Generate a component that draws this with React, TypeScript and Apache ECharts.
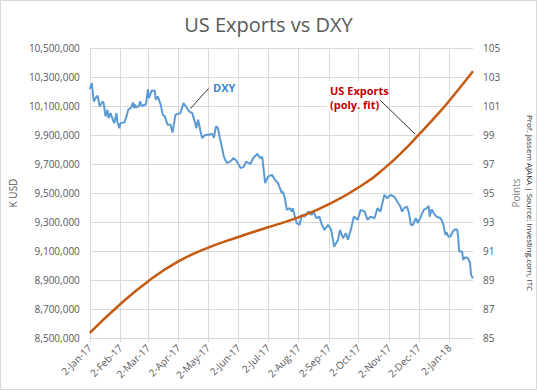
import React, { useEffect, useRef } from 'react';
import * as echarts from 'echarts';

const startDate = '2017-01-02';
const endDate = '2018-01-26';
const monthNames = ['Jan', 'Feb', 'Mar', 'Apr', 'May', 'Jun', 'Jul', 'Aug', 'Sep', 'Oct', 'Nov', 'Dec'];

const exportDates = [
  '2017-01-02', '2017-02-01', '2017-03-03', '2017-04-01', '2017-05-01', '2017-06-01', '2017-07-01', '2017-08-01',
  '2017-09-04', '2017-10-08', '2017-10-28', '2017-11-17', '2017-12-01', '2017-12-24', '2018-01-03', '2018-01-26',
];
const exportValues = [
  8535000, 8728000, 8895000, 9025000, 9120000, 9195000, 9262000, 9330000,
  9430000, 9565000, 9670000, 9795000, 9895000, 10065000, 10145000, 10340000,
];

const dxyDates = [
  '2017-01-02', '2017-01-04', '2017-01-06', '2017-01-09', '2017-01-10', '2017-01-12', '2017-01-15', '2017-01-16', '2017-01-18', '2017-01-20', '2017-01-21', '2017-01-23', '2017-01-26', '2017-01-27', '2017-01-29', '2017-01-30',
  '2017-02-01', '2017-02-02', '2017-02-05', '2017-02-06', '2017-02-08', '2017-02-10', '2017-02-13', '2017-02-15', '2017-02-16', '2017-02-17', '2017-02-18', '2017-02-21', '2017-02-22', '2017-02-24', '2017-02-28',
  '2017-03-02', '2017-03-03', '2017-03-06', '2017-03-09', '2017-03-10', '2017-03-12', '2017-03-15', '2017-03-17', '2017-03-19', '2017-03-22', '2017-03-25', '2017-03-27', '2017-03-30',
  '2017-04-04', '2017-04-07', '2017-04-09', '2017-04-13', '2017-04-16', '2017-04-19', '2017-04-20', '2017-04-22', '2017-04-24', '2017-04-26', '2017-04-29',
  '2017-05-03', '2017-05-06', '2017-05-08', '2017-05-10', '2017-05-12', '2017-05-14', '2017-05-16', '2017-05-18', '2017-05-21', '2017-05-25', '2017-05-28', '2017-05-31',
  '2017-06-04', '2017-06-07', '2017-06-10', '2017-06-14', '2017-06-17', '2017-06-21', '2017-06-24', '2017-06-26', '2017-06-29',
  '2017-07-02', '2017-07-06', '2017-07-09', '2017-07-12', '2017-07-16', '2017-07-17', '2017-07-19', '2017-07-21', '2017-07-24', '2017-07-26', '2017-07-27', '2017-07-31',
  '2017-08-03', '2017-08-05', '2017-08-08', '2017-08-12', '2017-08-15', '2017-08-17', '2017-08-20', '2017-08-23', '2017-08-25', '2017-08-28',
  '2017-09-01', '2017-09-04', '2017-09-07', '2017-09-11', '2017-09-13', '2017-09-16', '2017-09-19', '2017-09-21', '2017-09-24', '2017-09-27',
  '2017-10-01', '2017-10-04', '2017-10-08', '2017-10-11', '2017-10-14', '2017-10-18', '2017-10-21', '2017-10-24', '2017-10-28', '2017-10-31',
  '2017-11-03', '2017-11-07', '2017-11-10', '2017-11-13', '2017-11-15', '2017-11-17', '2017-11-20', '2017-11-22', '2017-11-24', '2017-11-26', '2017-11-29',
  '2017-12-01', '2017-12-04', '2017-12-07', '2017-12-10', '2017-12-12', '2017-12-13', '2017-12-15', '2017-12-17', '2017-12-20', '2017-12-24', '2017-12-25', '2017-12-27', '2017-12-29', '2017-12-30',
  '2018-01-01', '2018-01-03', '2018-01-06', '2018-01-08', '2018-01-10', '2018-01-11', '2018-01-12', '2018-01-15', '2018-01-16', '2018-01-18', '2018-01-21', '2018-01-23', '2018-01-24', '2018-01-26',
];
const dxyValues = [
  102.17, 102.58, 101.31, 101.66, 101.7, 100.97, 101.31, 101.2, 100.28, 100.74, 100.17, 100.51, 99.94, 99.82, 100.51, 99.9,
  99.47, 99.82, 99.86, 99.86, 100.23, 100.74, 100.9, 101.25, 100.85, 101.1, 100.9, 101.0, 101.31, 101.0, 101.12,
  102.17, 101.55, 102.07, 102.05, 101.43, 101.66, 101.08, 100.4, 100.3, 99.7, 99.7, 99.17, 100.4,
  100.51, 101.2, 101.02, 100.62, 100.51, 99.82, 99.47, 100.05, 99.36, 98.79, 99.0,
  99.01, 99.1, 98.8, 99.59, 99.5, 98.79, 98.21, 97.52, 97.06, 97.2, 97.41, 97.2,
  96.72, 96.8, 97.17, 97.0, 97.41, 97.7, 97.41, 97.5, 95.68,
  96.14, 96.25, 95.91, 95.68, 94.99, 95.1, 94.64, 93.84, 93.95, 93.72, 93.95, 92.92,
  92.8, 93.49, 93.37, 93.72, 93.49, 93.72, 93.26, 93.37, 92.92, 92.46,
  92.8, 92.46, 91.3, 91.77, 92.46, 91.88, 92.23, 91.77, 92.46, 93.37,
  93.15, 93.84, 93.72, 93.15, 93.37, 93.26, 93.95, 93.72, 94.87, 94.64,
  94.87, 94.76, 94.41, 94.1, 93.72, 93.95, 94.06, 93.6, 92.8, 92.8, 93.26,
  92.92, 93.37, 93.84, 93.95, 94.11, 93.37, 93.88, 93.61, 93.37, 93.26, 93.15, 92.8, 92.11, 92.3,
  91.99, 92.0, 92.4, 92.5, 92.46, 91.9, 90.96, 90.96, 90.38, 90.57, 90.5, 90.16, 89.35, 89.12,
];

const FONT = '"Open Sans", sans-serif';
const GRAY = '#595959';
const GRID = '#d9d9d9';

function buildDays(start: string, end: string): string[] {
  const out: string[] = [];
  const [sy, sm, sd] = start.split('-').map(Number);
  const [ey, em, ed] = end.split('-').map(Number);
  let t = Date.UTC(sy, sm - 1, sd);
  const e = Date.UTC(ey, em - 1, ed);
  while (t <= e) {
    const d = new Date(t);
    const s = `${d.getUTCFullYear()}-${String(d.getUTCMonth() + 1).padStart(2, '0')}-${String(d.getUTCDate()).padStart(2, '0')}`;
    out.push(s);
    t += 86400000;
  }
  return out;
}

function fmtDate(v: string): string {
  const [y, m, d] = v.split('-');
  return `${Number(d)}-${monthNames[Number(m) - 1]}-${y.slice(2)}`;
}

const isTickDay = (_i: number, v: string) => v.endsWith('-02');

export default function App() {
  const ref = useRef<HTMLDivElement>(null);
  useEffect(() => {
    if (!ref.current) return;
    const chart = echarts.init(ref.current, undefined, { renderer: 'svg' });
    const days = buildDays(startDate, endDate);
    chart.setOption({
      animation: false,
      backgroundColor: '#ffffff',
      title: {
        text: 'US Exports vs DXY',
        left: 'center',
        top: 9,
        textStyle: { fontFamily: FONT, fontSize: 20, fontWeight: 'normal', color: GRAY },
      },
      grid: { left: 86, right: 64, top: 48, bottom: 53, containLabel: false },
      xAxis: {
        type: 'category',
        data: days,
        boundaryGap: false,
        axisLine: { show: true, lineStyle: { color: GRID, width: 1 } },
        axisTick: { show: true, interval: isTickDay, length: 4, lineStyle: { color: GRID } },
        splitLine: { show: true, interval: isTickDay, lineStyle: { color: GRID, width: 1 } },
        axisLabel: {
          interval: isTickDay,
          rotate: 45,
          margin: 8,
          formatter: fmtDate,
          color: GRAY,
          fontFamily: FONT,
          fontSize: 10,
        },
      },
      yAxis: [
        {
          type: 'value',
          min: 8500000,
          max: 10500000,
          interval: 200000,
          name: 'K USD',
          nameLocation: 'middle',
          nameGap: 64,
          nameRotate: 90,
          nameTextStyle: { fontFamily: FONT, fontSize: 10, color: GRAY },
          axisLine: { show: false },
          axisTick: { show: false },
          splitLine: { show: true, lineStyle: { color: GRID, width: 1 } },
          axisLabel: {
            margin: 10,
            color: GRAY,
            fontFamily: FONT,
            fontSize: 10,
            formatter: (v: number) => v.toLocaleString('en-US'),
          },
        },
        {
          type: 'value',
          min: 85,
          max: 105,
          interval: 2,
          position: 'right',
          name: 'Points',
          nameLocation: 'middle',
          nameGap: 36,
          nameRotate: 90,
          nameTextStyle: { fontFamily: FONT, fontSize: 10, color: '#7f7f7f' },
          axisLine: { show: false },
          axisTick: { show: false },
          splitLine: { show: false },
          axisLabel: { margin: 10, color: GRAY, fontFamily: FONT, fontSize: 10 },
        },
      ],
      series: [
        {
          name: 'DXY',
          type: 'line',
          yAxisIndex: 1,
          data: dxyDates.map((d, i) => [d, dxyValues[i]]),
          showSymbol: false,
          symbol: 'none',
          connectNulls: true,
          lineStyle: { color: '#5b9bd5', width: 2 },
          z: 2,
        },
        {
          name: 'US Exports',
          type: 'line',
          yAxisIndex: 0,
          data: exportDates.map((d, i) => [d, exportValues[i]]),
          showSymbol: false,
          symbol: 'none',
          smooth: 0.5,
          connectNulls: true,
          lineStyle: { color: '#c55a11', width: 2.5 },
          z: 3,
        },
      ],
      graphic: [
        {
          type: 'rect',
          shape: { x: 0.5, y: 0.5, width: 536, height: 389 },
          style: { fill: 'none', stroke: GRID, lineWidth: 1 },
          silent: true,
        },
        {
          type: 'rect',
          z: 1,
          shape: { x: 210, y: 80, width: 24, height: 14 },
          style: { fill: '#ffffff' },
          silent: true,
        },
        {
          type: 'text',
          z: 2,
          x: 213,
          y: 87,
          style: { text: 'DXY', fill: '#3f86ce', fontFamily: FONT, fontSize: 11, fontWeight: 'bold', verticalAlign: 'middle' },
        },
        {
          type: 'line',
          z: 2,
          shape: { x1: 208.5, y1: 88.5, x2: 190.5, y2: 108.5 },
          style: { stroke: '#000000', lineWidth: 0.8 },
        },
        {
          type: 'rect',
          z: 1,
          shape: { x: 327, y: 81, width: 60, height: 31 },
          style: { fill: '#ffffff' },
          silent: true,
        },
        {
          type: 'text',
          z: 2,
          x: 330,
          y: 90,
          style: {
            text: 'US Exports',
            fill: '#c00000',
            fontFamily: FONT,
            fontSize: 11,
            fontWeight: 'bold',
            verticalAlign: 'middle',
          },
        },
        {
          type: 'text',
          z: 2,
          x: 330,
          y: 104,
          style: {
            text: '(poly. fit)',
            fill: '#c00000',
            fontFamily: FONT,
            fontSize: 11,
            fontWeight: 'bold',
            verticalAlign: 'middle',
          },
        },
        {
          type: 'line',
          z: 2,
          shape: { x1: 380.5, y1: 100.5, x2: 415, y2: 134 },
          style: { stroke: '#000000', lineWidth: 0.8 },
        },
        {
          type: 'text',
          x: 530,
          y: 203,
          rotation: -Math.PI / 2,
          style: {
            text: 'Prof. Jassem AJAKA | Source: Investing.com, ITC',
            fill: '#262626',
            fontFamily: FONT,
            fontSize: 8,
            align: 'center',
            verticalAlign: 'middle',
          },
        },
      ],
    });
    return () => chart.dispose();
  }, []);
  return (
    <div style={{ position: 'absolute', left: 0, top: 0, width: 537, height: 391 }}>
      <div ref={ref} style={{ width: 537, height: 391 }} />
    </div>
  );
}
